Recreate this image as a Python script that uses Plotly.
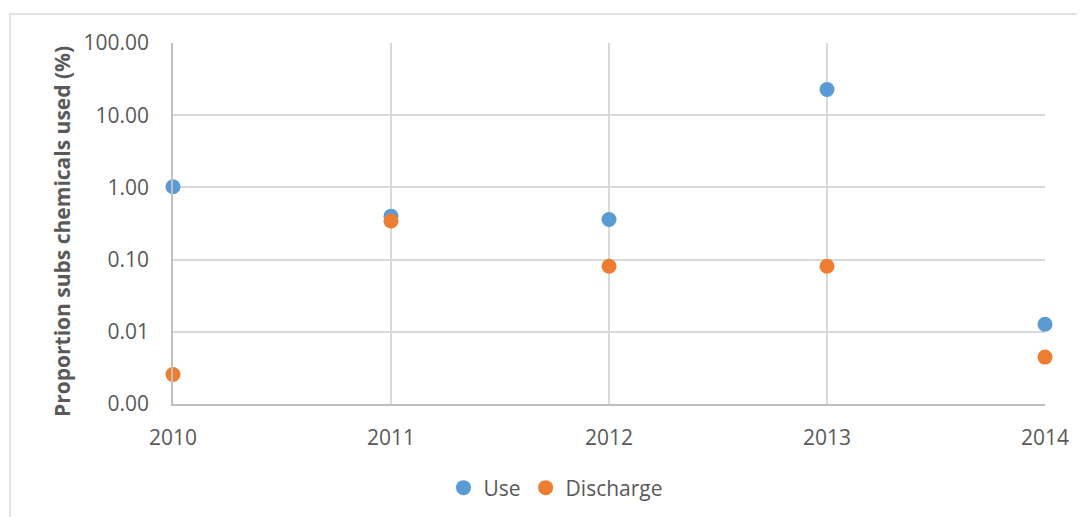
import plotly.graph_objects as go

years = [2010, 2011, 2012, 2013, 2014]
use_pct = [1.02, 0.40, 0.36, 22.7, 0.0127]
discharge_pct = [0.00256, 0.342, 0.081, 0.081, 0.00446]

y_tickvals = [0.001, 0.01, 0.1, 1, 10, 100]
y_ticktext = ["0.00", "0.01", "0.10", "1.00", "10.00", "100.00"]
x_tickvals = [2010, 2011, 2012, 2013, 2014]
y_title = "Proportion subs chemicals used (%)"

W, H = 1085, 517
OFF = 8  # page body margin offset
L, R, T, B = 173 - OFF, 1085 - 1045 + OFF, 43 - OFF, 517 - 404 + OFF
pw, ph = W - L - R, H - T - B
plot_bottom_px = 404 - OFF

fig = go.Figure()
fig.add_trace(go.Scatter(x=years, y=use_pct, mode="markers", name="Use",
                         marker=dict(color="#5B9BD5", size=15), cliponaxis=False))
fig.add_trace(go.Scatter(x=years, y=discharge_pct, mode="markers", name="Discharge",
                         marker=dict(color="#ED7D31", size=15), cliponaxis=False))

font_family = "Open Sans, Liberation Sans, sans-serif"
fig.update_layout(
    width=W, height=H,
    margin=dict(l=L, r=R, t=T, b=B),
    paper_bgcolor="white", plot_bgcolor="white",
    font=dict(family=font_family, color="#595959", size=21),
    showlegend=True,
    legend=dict(orientation="h", x=(556 - OFF - L) / pw, xanchor="center",
                y=(plot_bottom_px - (488 - OFF)) / ph, yanchor="middle",
                font=dict(size=21, color="#595959"), itemwidth=30,
                tracegroupgap=0),
    xaxis=dict(range=[2010, 2014], tickvals=x_tickvals, ticktext=[str(v) for v in x_tickvals],
               showgrid=True, gridcolor="#D9D9D9", gridwidth=1.5,
               showline=True, linecolor="#BFBFBF", linewidth=1.5,
               zeroline=False, ticks="", ticklabelstandoff=14,
               tickfont=dict(size=21, color="#595959")),
    yaxis=dict(type="log", range=[-3, 2], tickvals=y_tickvals, ticktext=y_ticktext,
               showgrid=True, gridcolor="#D9D9D9", gridwidth=1.5,
               showline=True, linecolor="#BFBFBF", linewidth=1.5,
               zeroline=False, ticks="", ticklabelstandoff=18,
               tickfont=dict(size=21, color="#595959")),
)

fig.add_annotation(text="<b>" + y_title + "</b>", textangle=-90,
                   xref="paper", yref="paper",
                   x=(62 - OFF - L) / pw, y=(plot_bottom_px - (232 - OFF)) / ph,
                   xanchor="center", yanchor="middle", showarrow=False,
                   font=dict(size=21, color="#595959", family=font_family))

# outer chart border (extends beyond the visible window on right/bottom)
fig.add_shape(type="rect", xref="paper", yref="paper",
              x0=(10 - OFF - L) / pw, x1=(1200 - L) / pw,
              y0=(plot_bottom_px - 700) / ph, y1=(plot_bottom_px - (14 - OFF)) / ph,
              line=dict(color="#D9D9D9", width=1.5), fillcolor="rgba(0,0,0,0)",
              layer="below")

fig.write_html("out.html")
